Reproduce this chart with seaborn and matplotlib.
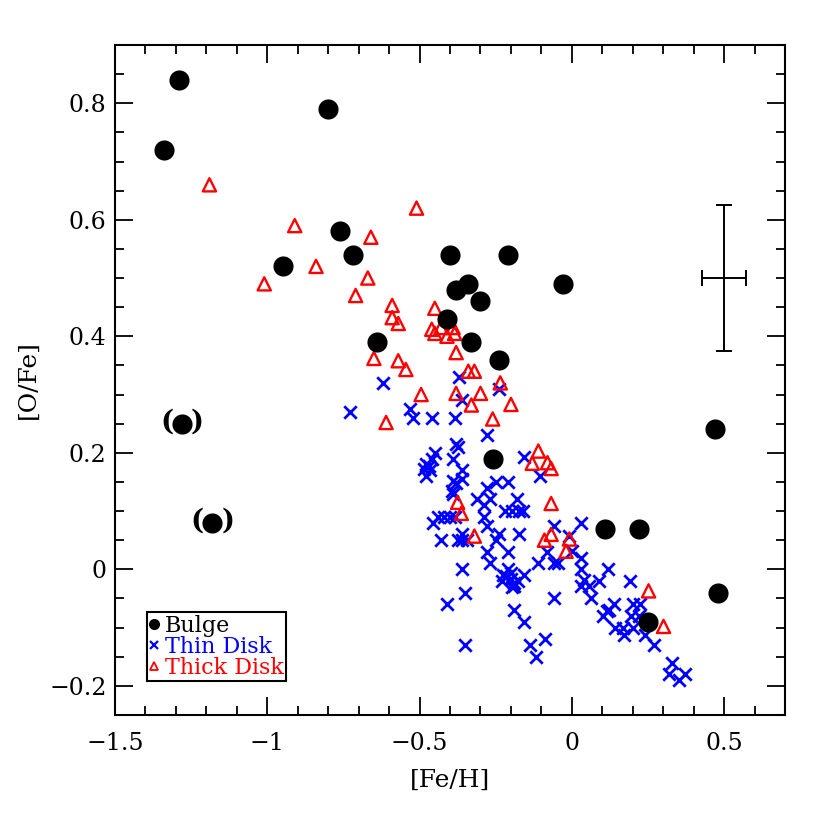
import matplotlib
matplotlib.use("Agg")
import matplotlib.pyplot as plt
from matplotlib.lines import Line2D
import seaborn as sns
import pandas as pd

# ---------------- data ----------------
bulge_feh = [-1.29, -1.34, -0.80, -0.95, -0.76, -0.72, -0.64, -0.40, -0.38, -0.34,
             -0.30, -0.41, -0.33, -0.21, -0.03, -0.24, -0.26, -1.28, -1.18, 0.11,
             0.22, 0.47, 0.48, 0.25]
bulge_ofe = [0.84, 0.72, 0.79, 0.52, 0.58, 0.54, 0.39, 0.54, 0.48, 0.49,
             0.46, 0.43, 0.39, 0.54, 0.49, 0.36, 0.19, 0.25, 0.08, 0.07,
             0.07, 0.24, -0.04, -0.09]
# bulge points drawn in parentheses
paren_feh = [-1.28, -1.18]
paren_ofe = [0.25, 0.08]

thin_feh = [-0.62, -0.37, -0.24, -0.73, -0.36, -0.53, -0.52, -0.46, -0.385, -0.28,
            -0.38, -0.375, -0.45, -0.39, -0.46, -0.48, -0.47, -0.485, -0.467, -0.48,
            -0.36, -0.36, -0.39, -0.38, -0.395, -0.39, -0.25, -0.21, -0.28, -0.31,
            -0.27, -0.18, -0.29, -0.22, -0.195, -0.175, -0.16, -0.455, -0.44, -0.42,
            -0.40, -0.385, -0.29, -0.28, -0.43, -0.375, -0.36, -0.345, -0.36, -0.24,
            -0.25, -0.175, -0.28, -0.21, -0.27, -0.36, -0.21, -0.225, -0.215, -0.23,
            -0.20, -0.19, -0.195, -0.178, -0.35, -0.41, -0.19, -0.35,
            -0.01, 0.0, -0.08, -0.11, -0.057, -0.046, 0.03, 0.03, 0.12, -0.156,
            -0.20, -0.189, 0.041, 0.03, 0.057, 0.09, 0.063, 0.19, -0.057, -0.158,
            0.139, 0.123, 0.115, 0.101, 0.202, 0.225, 0.194, 0.143, 0.167, 0.172,
            0.202, 0.241, 0.221, 0.27, -0.139, -0.088, -0.118, 0.33, 0.32, 0.352,
            0.372, -0.156, -0.103, 0.03, -0.059]
thin_ofe = [0.32, 0.33, 0.31, 0.27, 0.29, 0.275, 0.26, 0.26, 0.26, 0.23,
            0.215, 0.21, 0.20, 0.19, 0.19, 0.18, 0.177, 0.172, 0.17, 0.16,
            0.17, 0.155, 0.152, 0.149, 0.134, 0.13, 0.15, 0.15, 0.14, 0.12,
            0.12, 0.12, 0.11, 0.10, 0.10, 0.10, 0.10, 0.08, 0.09, 0.09,
            0.09, 0.09, 0.09, 0.075, 0.05, 0.05, 0.05, 0.05, 0.06, 0.06,
            0.05, 0.06, 0.03, 0.03, 0.01, 0.0, 0.0, -0.01, -0.012, -0.02,
            -0.017, -0.023, -0.031, -0.02, -0.04, -0.06, -0.07, -0.13,
            0.058, 0.031, 0.03, 0.01, 0.01, 0.01, 0.02, 0.0, 0.0, -0.01,
            -0.006, -0.029, -0.018, -0.029, -0.029, -0.02, -0.05, -0.02, -0.05, -0.09,
            -0.06, -0.069, -0.072, -0.08, -0.06, -0.06, -0.08, -0.10, -0.10, -0.112,
            -0.10, -0.112, -0.08, -0.13, -0.13, -0.12, -0.15, -0.16, -0.18, -0.19,
            -0.18, 0.192, 0.16, 0.08, 0.074]

thick_feh = [-1.19, -1.01, -0.91, -0.84, -0.66, -0.67, -0.71, -0.51, -0.59, -0.59,
             -0.57, -0.45, -0.46, -0.45, -0.43, -0.41, -0.39, -0.385, -0.38, -0.65,
             -0.57, -0.545, -0.34, -0.32, -0.235, -0.495, -0.38, -0.30, -0.33, -0.20,
             -0.26, -0.61, -0.11, -0.13, -0.08, -0.068, -0.375, -0.363, -0.32, -0.068,
             -0.068, -0.09, -0.008, -0.019, 0.252, 0.301]
thick_ofe = [0.66, 0.49, 0.59, 0.52, 0.57, 0.50, 0.47, 0.62, 0.453, 0.432,
             0.422, 0.448, 0.412, 0.405, 0.415, 0.40, 0.415, 0.405, 0.372, 0.362,
             0.358, 0.343, 0.34, 0.34, 0.32, 0.30, 0.302, 0.302, 0.282, 0.283,
             0.258, 0.252, 0.203, 0.182, 0.183, 0.173, 0.115, 0.096, 0.057, 0.113,
             0.06, 0.05, 0.052, 0.031, -0.037, -0.098]

# representative error bar
err_feh = [0.50]
err_ofe = [0.50]
err_x = [0.073]
err_y = [0.125]

legend_labels = ["Bulge", "Thin Disk", "Thick Disk"]
legend_colors = ["black", "#0000ff", "#ff0000"]

# ---------------- style ----------------
sns.set_theme(style="ticks")
plt.rcParams["font.family"] = ["DejaVu Serif"]
plt.rcParams["axes.unicode_minus"] = True

fig = plt.figure(figsize=(8.3, 8.3), dpi=100)
ax = fig.add_axes([0.1386, 0.1386, 0.8072, 0.8072])

bulge = pd.DataFrame({"feh": bulge_feh, "ofe": bulge_ofe})
thin = pd.DataFrame({"feh": thin_feh, "ofe": thin_ofe})
thick = pd.DataFrame({"feh": thick_feh, "ofe": thick_ofe})

sns.scatterplot(data=thin, x="feh", y="ofe", ax=ax, marker="x", color="#0000ff",
                s=80, linewidth=2.0, zorder=3, legend=False)
sns.scatterplot(data=thick, x="feh", y="ofe", ax=ax, marker="^", color="#ff0000",
                facecolor="none", edgecolor="#ff0000", s=90, linewidth=1.7,
                zorder=4, legend=False)
sns.scatterplot(data=bulge, x="feh", y="ofe", ax=ax, marker="o", color="black",
                edgecolor="black", s=210, linewidth=0, zorder=5, legend=False)

for px, py in zip(paren_feh, paren_ofe):
    ax.annotate("(", (px, py), xytext=(-11.2, 0.8), textcoords="offset points",
                ha="center", va="center", fontsize=20, color="black",
                fontweight="bold", zorder=7)
    ax.annotate(")", (px, py), xytext=(11.2, 0.8), textcoords="offset points",
                ha="center", va="center", fontsize=20, color="black",
                fontweight="bold", zorder=7)

ax.errorbar(err_feh, err_ofe, xerr=err_x, yerr=err_y, fmt="none", ecolor="black",
            elinewidth=1.4, capsize=5.5, capthick=1.4)

ax.set_xlim(-1.5, 0.7)
ax.set_ylim(-0.25, 0.9)
ax.set_xticks([-1.5, -1.0, -0.5, 0.0, 0.5])
ax.set_xticklabels(["\u22121.5", "\u22121", "\u22120.5", "0", "0.5"])
ax.set_yticks([-0.2, 0.0, 0.2, 0.4, 0.6, 0.8])
ax.set_yticklabels(["\u22120.2", "0", "0.2", "0.4", "0.6", "0.8"])
ax.set_xticks([x / 10 for x in range(-15, 8)], minor=True)
ax.set_yticks([y / 20 for y in range(-5, 19)], minor=True)

ax.tick_params(which="both", direction="in", top=True, right=True, colors="black",
               labelsize=17)
ax.tick_params(which="major", length=13, width=1.3)
ax.tick_params(axis="x", which="major", pad=12)
ax.tick_params(axis="y", which="major", pad=6)
ax.tick_params(which="minor", length=6.5, width=1.3)
for sp in ax.spines.values():
    sp.set_linewidth(1.5)
    sp.set_color("black")

ax.set_xlabel("[Fe/H]", fontsize=18, color="black", labelpad=10)
ax.set_ylabel("[O/Fe]", fontsize=18, color="black", labelpad=7)

handles = [
    Line2D([], [], ls="none", marker="o", ms=8, mfc="black", mec="black", mew=0),
    Line2D([], [], ls="none", marker="x", ms=6, mec="#0000ff", mew=1.6),
    Line2D([], [], ls="none", marker="^", ms=6, mfc="none", mec="#ff0000", mew=1.3),
]
leg = ax.legend(handles, legend_labels,
                loc="lower left", bbox_to_anchor=(0.047, 0.05), fontsize=16,
                frameon=True, fancybox=False, edgecolor="black", framealpha=1,
                handlelength=0.45, handletextpad=0.25, borderpad=0.12,
                labelspacing=-0.05, borderaxespad=0)
leg.get_frame().set_linewidth(1.5)
for txt, col in zip(leg.get_texts(), legend_colors):
    txt.set_color(col)

fig.savefig("out.png", dpi=100)
